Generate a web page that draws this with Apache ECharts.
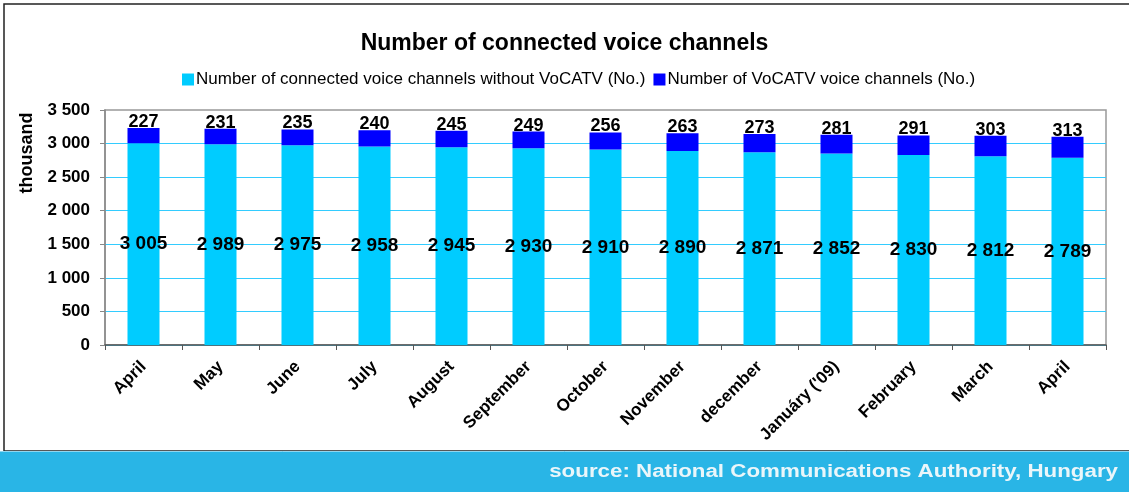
<!DOCTYPE html>
<html><head><meta charset="utf-8">
<script src="https://cdn.jsdelivr.net/npm/echarts@6/dist/echarts.min.js"></script>
<style>html,body{margin:0;padding:0;background:#fff}#c{width:1129px;height:492px}</style>
</head><body><div id="c"></div>
<script>
const categories = ['April','May','June','July','August','September','October','November','december',"Januáry ('09)",'February','March','April'];
const withoutVoCATV = [3005,2989,2975,2958,2945,2930,2910,2890,2871,2852,2830,2812,2789];
const voCATV = [227,231,235,240,245,249,256,263,273,281,291,303,313];
const seriesNames = ['Number of connected voice channels without VoCATV (No.)','Number of VoCATV voice channels (No.)'];
const yTicks = {min:0,max:3500,interval:500};

const fmt = v => String(v).replace(/\B(?=(\d{3})+(?!\d))/g,' ');
const F = '"Liberation Sans", Arial, sans-serif';
const chart = echarts.init(document.getElementById('c'));
chart.setOption({
  animation:false,
  backgroundColor:'#fff',
  title:{text:'Number of connected voice channels',left:'center',top:27,
    textStyle:{fontFamily:F,fontSize:23,fontWeight:'bold',color:'#000'}},
  legend:{top:66,left:177,itemWidth:12,itemHeight:12,itemGap:8,icon:'rect',
    textStyle:{fontFamily:F,fontSize:17,color:'#000',padding:[0,0,0,-3]}},
  grid:{left:105,right:23,top:110,bottom:147,containLabel:false,outerBoundsMode:'none',
    show:true,borderColor:'#999',borderWidth:1.5},
  xAxis:{type:'category',data:categories,
    axisLine:{lineStyle:{color:'#555',width:1.5}},
    axisTick:{show:true,length:5,lineStyle:{color:'#555'}},
    axisLabel:{rotate:45,fontFamily:F,fontSize:17,fontWeight:'bold',color:'#000',margin:19,interval:0}},
  yAxis:{type:'value',min:yTicks.min,max:yTicks.max,interval:yTicks.interval,
    axisLine:{show:true,lineStyle:{color:'#888',width:1.5}},
    axisTick:{show:true,length:5,lineStyle:{color:'#888'}},
    splitLine:{showMaxLine:false,lineStyle:{color:'#33ccff',width:1}},
    axisLabel:{fontFamily:F,fontSize:17,fontWeight:'bold',color:'#000',margin:15,formatter:v=>fmt(v)}},
  series:[
    {name:seriesNames[0],type:'bar',stack:'s',data:withoutVoCATV,barWidth:32,
     itemStyle:{color:'#00ccff'},
     label:{show:true,position:'inside',fontFamily:F,fontSize:19,fontWeight:'bold',color:'#000',formatter:p=>fmt(p.value)}},
    {name:seriesNames[1],type:'bar',stack:'s',data:voCATV,barWidth:32,
     itemStyle:{color:'#0000ff'},
     label:{show:true,position:'top',distance:-3,fontFamily:F,fontSize:18,fontWeight:'bold',color:'#000',formatter:p=>fmt(p.value)}}
  ],
  graphic:[
    {type:'rect',shape:{x:4,y:4,width:1140,height:447},style:{fill:'none',stroke:'#222',lineWidth:1.5},z:-1},
    {type:'text',x:27,y:153,rotation:Math.PI/2,style:{text:'thousand',align:'center',verticalAlign:'middle',
      font:'bold 18px "Liberation Sans", Arial, sans-serif',fill:'#000'}},
    {type:'rect',shape:{x:0,y:451,width:1129,height:41},style:{fill:'#29b5e6'}},
    {type:'line',shape:{x1:0,y1:451.5,x2:1129,y2:451.5},style:{stroke:'#8fd6f0',lineWidth:1}},
    {type:'text',x:1118,y:472,scaleX:1.24,style:{text:'source: National Communications Authority, Hungary',
      align:'right',verticalAlign:'middle',
      font:'bold 18px "Liberation Sans", Arial, sans-serif',fill:'#eaf6fa'}}
  ]
});
</script></body></html>
